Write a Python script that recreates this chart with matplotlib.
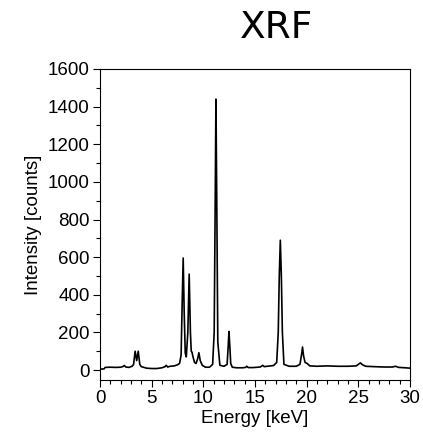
import matplotlib.pyplot as plt
from matplotlib.ticker import MultipleLocator

# spectrum vertices (keV, counts)
energy = [0.0, 0.4, 0.5, 1.0, 1.5, 2.0, 2.2, 2.35, 2.5, 2.8, 3.1, 3.25, 3.4, 3.55,
          3.7, 3.85, 4.0, 4.5, 5.0, 5.5, 6.0, 6.3, 6.4, 6.55, 6.8, 7.2, 7.5, 7.7,
          7.85, 7.95, 8.05, 8.15, 8.25, 8.35, 8.5, 8.63, 8.75, 8.83, 8.9, 9.0, 9.15,
          9.3, 9.45, 9.57, 9.7, 9.9, 10.2, 10.6, 10.9, 11.05, 11.15, 11.22, 11.3,
          11.4, 11.6, 12.0, 12.3, 12.4, 12.48, 12.56, 12.65, 12.8, 13.2, 13.8, 14.1,
          14.2, 14.35, 14.8, 15.5, 15.75, 15.9, 16.2, 16.8, 17.1, 17.25, 17.35,
          17.45, 17.55, 17.65, 17.8, 18.3, 19.0, 19.35, 19.5, 19.6, 19.7, 19.85,
          20.05, 20.3, 21.0, 22.0, 23.0, 24.0, 24.8, 25.05, 25.2, 25.4, 25.7, 26.5,
          27.5, 28.3, 28.6, 28.9, 29.5, 30.0]
counts = [5, 6, 14, 15, 14, 15, 18, 24, 16, 14, 20, 30, 100, 50,
          100, 30, 18, 10, 8, 8, 12, 18, 25, 16, 20, 22, 28, 35,
          80, 350, 595, 300, 90, 70, 200, 510, 200, 100, 95, 70, 40,
          35, 60, 92, 50, 25, 15, 15, 30, 200, 900, 1440, 900,
          150, 25, 20, 30, 120, 205, 130, 35, 15, 12, 12, 14,
          20, 13, 13, 16, 25, 18, 20, 24, 40, 200, 500,
          690, 500, 200, 30, 20, 20, 30, 80, 122, 75, 40,
          35, 22, 20, 22, 20, 20, 22, 32, 38, 28, 20, 18,
          16, 16, 20, 14, 12, 10]

plt.rcParams['font.family'] = ['Liberation Sans', 'DejaVu Sans']

fig = plt.figure(figsize=(4.23, 4.38), dpi=100)
ax = fig.add_axes([100/423, 1-380/438, 310/423, 311/438])

ax.plot(energy, counts, color="black", linewidth=1.2)

ax.set_xlim(0, 30)
ax.set_ylim(-53, 1600)
ax.xaxis.set_major_locator(MultipleLocator(5))
ax.xaxis.set_minor_locator(MultipleLocator(1))
ax.yaxis.set_major_locator(MultipleLocator(200))
ax.yaxis.set_minor_locator(MultipleLocator(100))
ax.tick_params(which="major", length=5, width=0.8, labelsize=13.5, direction="out", pad=2.5)
ax.tick_params(which="minor", length=3, width=0.8, direction="out")
for s in ax.spines.values():
    s.set_linewidth(0.8)

ax.set_xlabel("Energy [keV]", fontsize=13.5, labelpad=2)
ax.set_ylabel("Intensity [counts]", fontsize=13.5, labelpad=4)

fig.text(276/423, 1-28/438, "XRF", family="DejaVu Sans", fontsize=27,
         ha="center", va="center")

plt.savefig("out.png", dpi=100)
